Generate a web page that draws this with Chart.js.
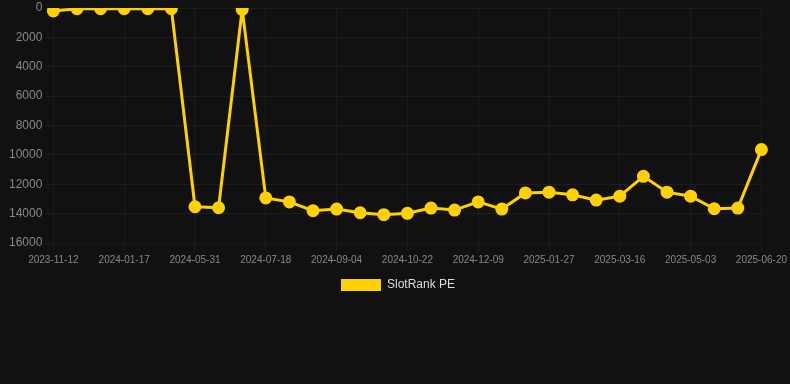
<!DOCTYPE html>
<html>
<head>
<meta charset="utf-8">
<script src="https://cdn.jsdelivr.net/npm/chart.js@4"></script>
<style>
    html, body { margin: 0; padding: 0; background: #111111; }
    .wrap { width: 790px; height: 301px; position: relative; }
</style>
</head>
<body>
<div class="wrap"><canvas id="rank-chart"></canvas></div>
<script>
// dates of each sample (only every third one is shown on the axis)
const dates = [
    '2023-11-12', '2023-12-04', '2023-12-26', '2024-01-17', '2024-03-02', '2024-04-16',
    '2024-05-31', '2024-06-16', '2024-07-02', '2024-07-18', '2024-08-03', '2024-08-19',
    '2024-09-04', '2024-09-20', '2024-10-06', '2024-10-22', '2024-11-07', '2024-11-23',
    '2024-12-09', '2024-12-25', '2025-01-11', '2025-01-27', '2025-02-12', '2025-02-28',
    '2025-03-16', '2025-04-01', '2025-04-17', '2025-05-03', '2025-05-19', '2025-06-04',
    '2025-06-20'
];

// rank values (lower is better, axis reversed)
const rankPE = [
    200, 50, 50, 50, 50, 50,
    13530, 13600, 90, 12930, 13200, 13800,
    13690, 13940, 14070, 13980, 13620, 13760,
    13200, 13690, 12590, 12540, 12720, 13080,
    12810, 11460, 12540, 12810, 13670, 13620,
    9640
];

const yTicks = [0, 2000, 4000, 6000, 8000, 10000, 12000, 14000, 16000];

const gold = '#FFD100';
const gridColor = 'rgba(255,255,255,0.05)';
const fontFamily = 'Arial, "Liberation Sans", sans-serif';

new Chart(document.getElementById('rank-chart'), {
    type: 'line',
    data: {
        labels: dates,
        datasets: [{
            label: 'SlotRank PE',
            data: rankPE,
            borderColor: gold,
            backgroundColor: gold,
            borderWidth: 3,
            pointRadius: 5,
            pointBackgroundColor: gold,
            pointBorderColor: gold,
            tension: 0,
            fill: false
        }]
    },
    options: {
        responsive: true,
        maintainAspectRatio: false,
        animation: false,
        layout: { padding: { left: 6, right: 0, top: 0, bottom: 0 } },
        plugins: {
            legend: {
                display: true,
                position: 'bottom',
                labels: {
                    color: '#dddddd',
                    boxWidth: 40,
                    boxHeight: 12,
                    font: { size: 12, family: fontFamily },
                    generateLabels: function (chart) {
                        return Chart.defaults.plugins.legend.labels.generateLabels(chart)
                            .map(l => ({ ...l, lineWidth: 0 }));
                    }
                }
            },
            tooltip: { enabled: false }
        },
        scales: {
            x: {
                grid: { color: gridColor },
                ticks: {
                    color: '#888888',
                    maxRotation: 0,
                    autoSkip: false,
                    font: { size: 10, family: fontFamily },
                    callback: function (val, i) { return i % 3 === 0 ? dates[i] : null; }
                }
            },
            y: {
                reverse: true,
                min: 0,
                max: 16000,
                afterBuildTicks: function (axis) { axis.ticks = yTicks.map(v => ({ value: v })); },
                grid: { color: gridColor },
                ticks: {
                    color: '#888888',
                    font: { size: 12, family: fontFamily, lineHeight: 0.6 },
                    callback: function (val) { return String(val); }
                }
            }
        }
    }
});
</script>
</body>
</html>
